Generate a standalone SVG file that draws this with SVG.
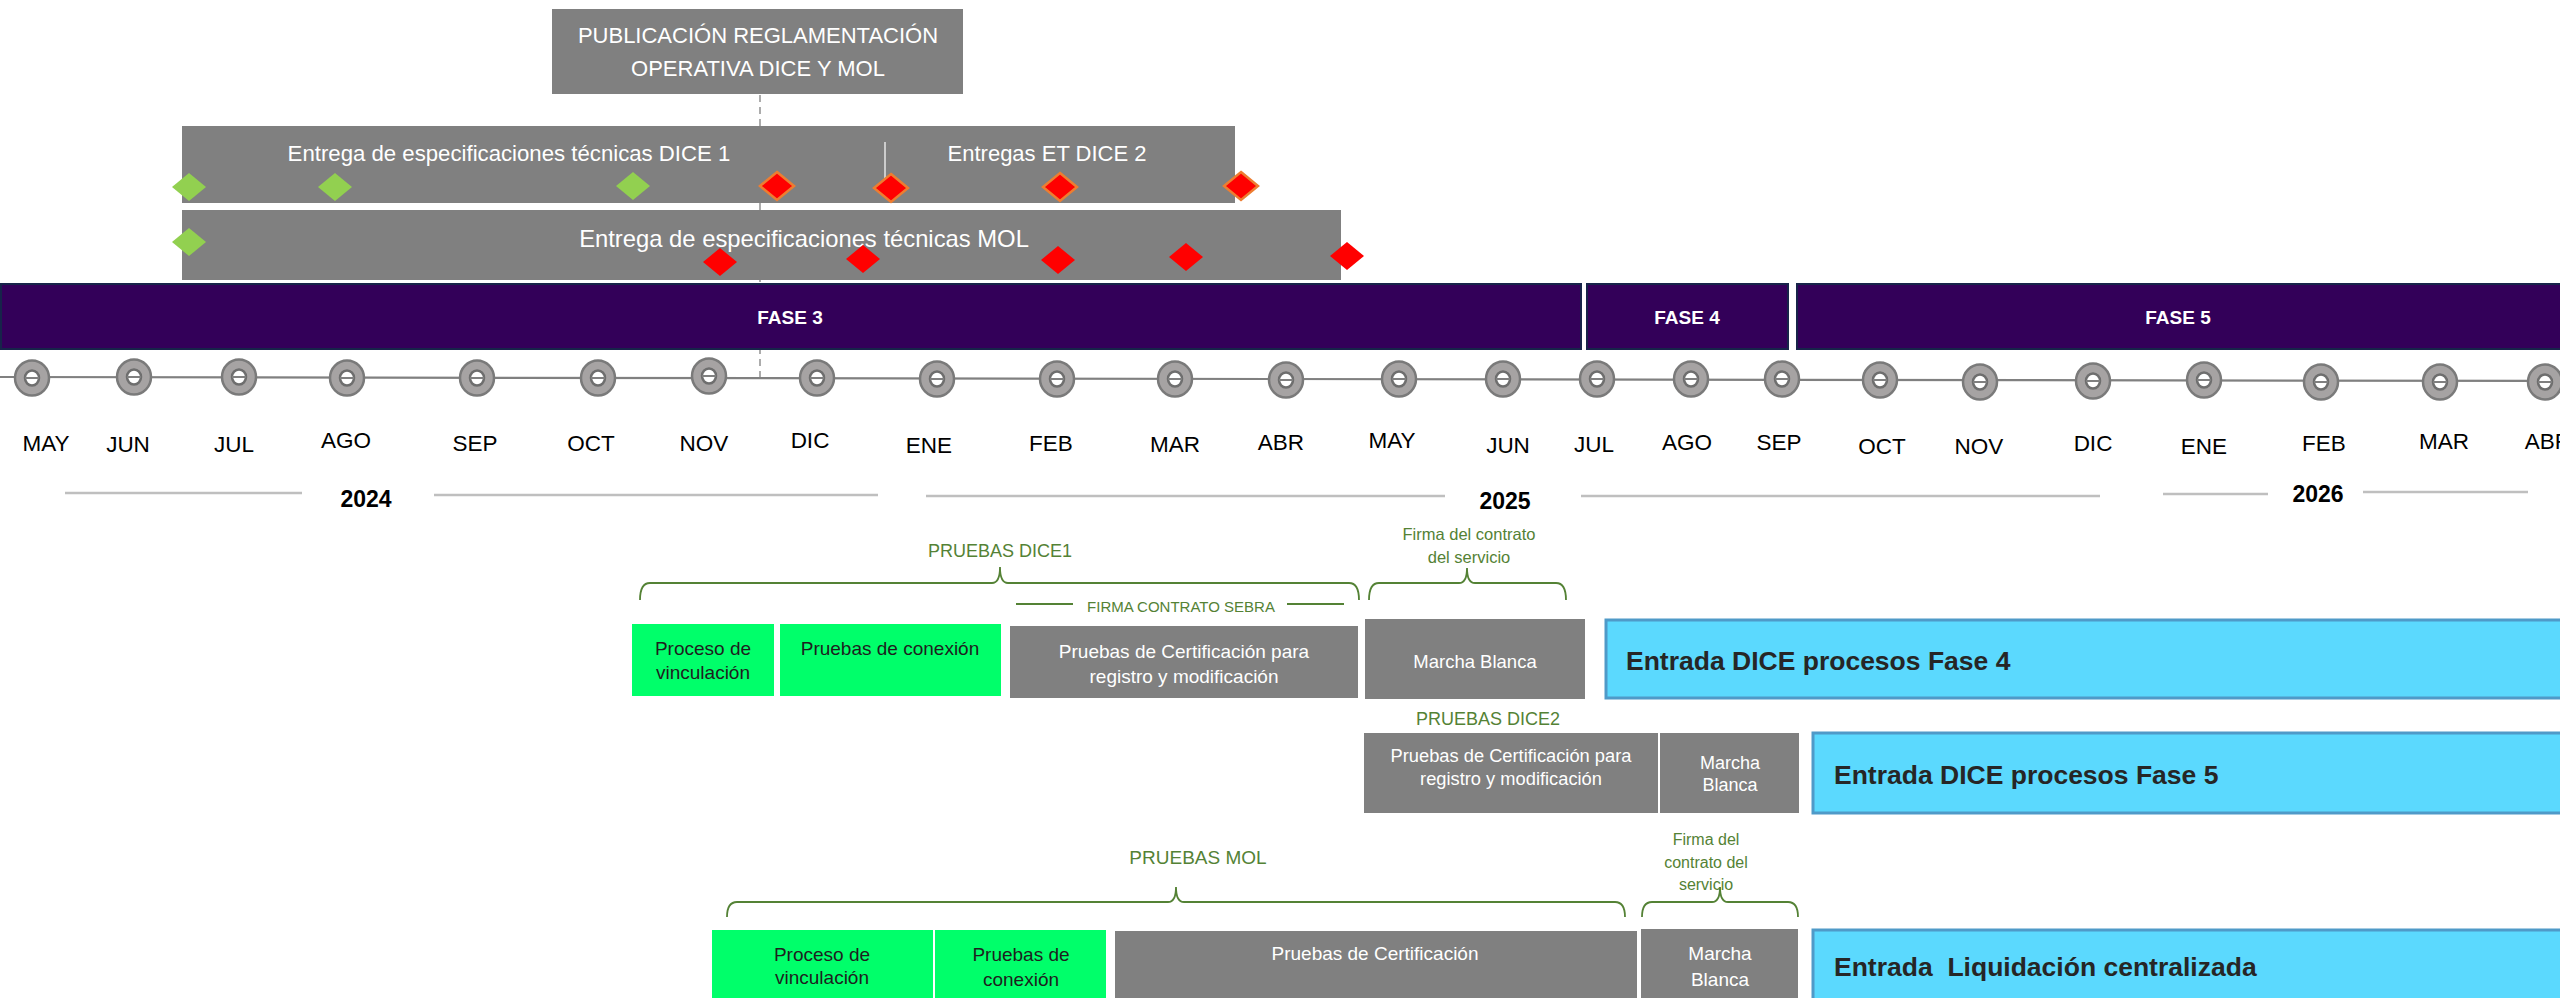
<svg xmlns="http://www.w3.org/2000/svg" width="2560" height="998" viewBox="0 0 2560 998">
<defs>
<style>
text{font-family:"Liberation Sans",Arial,sans-serif;dominant-baseline:central}
.w{fill:#fff}
.gbox{fill:#808080}
.grn{fill:#00FF6A}
.blue{fill:#5BD9FE;stroke:#4F9AC8;stroke-width:3}
.fase{fill:#330059;stroke:#17244A;stroke-width:2}
.ft{fill:#fff;font-weight:bold;font-size:19px;text-anchor:middle}
.mo{font-size:22.5px;fill:#000;text-anchor:middle}
.yr{font-size:23px;font-weight:bold;fill:#000;text-anchor:middle}
.yl{stroke:#BFBFBF;stroke-width:2.5}
.gl{fill:#548235;text-anchor:middle}
.br{fill:none;stroke:#548235;stroke-width:1.8}
.dk{fill:#1e1e1e;text-anchor:middle}
.wt{fill:#fff;text-anchor:middle}
.bt{fill:#262626;font-weight:bold;font-size:26.5px}
.dg{fill:#92D050}
.dr{fill:#FF0000;stroke:#ED7D31;stroke-width:2.5}
.dm{fill:#FF0000}
</style>
<g id="ring">
<ellipse cx="0" cy="0" rx="17" ry="17.5" fill="#A6A3A3" stroke="#7A7A7A" stroke-width="2.5"/>
<ellipse cx="0" cy="0" rx="7" ry="7.5" fill="#fff" stroke="#6E6E6E" stroke-width="2.5"/>
<line x1="-7" y1="0" x2="7" y2="0" stroke="#808080" stroke-width="2"/>
</g>
<polygon id="dia" points="0,-14 17,0 0,14 -17,0"/>
</defs>
<rect width="2560" height="998" fill="#fff"/>

<g id="connectors">
<line x1="760" y1="95" x2="760" y2="378" stroke="#808080" stroke-width="1.3" stroke-dasharray="7,5"/>
<line x1="0" y1="377" x2="2560" y2="381" stroke="#808080" stroke-width="2.2"/>
<path class="br" d="M640,600 Q640,583 650,583 L992,583 Q1000,583 1000,567 Q1000,583 1008,583 L1349,583 Q1359,583 1359,600"/>
<path class="br" d="M1369,600 Q1369,583 1379,583 L1459,583 Q1467,583 1467,568 Q1467,583 1475,583 L1556,583 Q1566,583 1566,600"/>
<path class="br" d="M727,917 Q727,902 737,902 L1168,902 Q1176,902 1176,887 Q1176,902 1184,902 L1615,902 Q1625,902 1625,917"/>
<path class="br" d="M1642,917 Q1642,902 1652,902 L1712,902 Q1720,902 1720,887 Q1720,902 1728,902 L1788,902 Q1798,902 1798,917"/>
<line x1="1016" y1="604" x2="1073" y2="604" stroke="#548235" stroke-width="1.8"/>
<line x1="1287" y1="604" x2="1344" y2="604" stroke="#548235" stroke-width="1.8"/>
</g>

<g id="publicacion">
<rect class="gbox" x="552" y="9" width="411" height="85"/>
<text class="wt" x="758" y="35" font-size="22">PUBLICACIÓN REGLAMENTACIÓN</text>
<text class="wt" x="758" y="68" font-size="22">OPERATIVA DICE Y MOL</text>
</g>

<g id="entrega-dice">
<rect class="gbox" x="182" y="126" width="1053" height="77"/>
<line x1="885" y1="142" x2="885" y2="197" stroke="#fff" stroke-width="1.2"/>
<text class="wt" x="509" y="153" font-size="22.2">Entrega de especificaciones técnicas DICE 1</text>
<text class="wt" x="1047" y="153" font-size="22">Entregas ET DICE 2</text>
<use href="#dia" class="dg" x="189" y="187"/>
<use href="#dia" class="dg" x="335" y="187"/>
<use href="#dia" class="dg" x="633" y="186"/>
<use href="#dia" class="dr" x="777" y="186"/>
<use href="#dia" class="dr" x="891" y="188"/>
<use href="#dia" class="dr" x="1060" y="187"/>
<use href="#dia" class="dr" x="1241" y="186"/>
</g>

<g id="entrega-mol">
<rect class="gbox" x="182" y="210" width="1159" height="70"/>
<text class="wt" x="804" y="238" font-size="23.8">Entrega de especificaciones técnicas MOL</text>
<use href="#dia" class="dg" x="189" y="242"/>
<use href="#dia" class="dm" x="720" y="262"/>
<use href="#dia" class="dm" x="863" y="259"/>
<use href="#dia" class="dm" x="1058" y="260"/>
<use href="#dia" class="dm" x="1186" y="257"/>
<use href="#dia" class="dm" x="1347" y="256"/>
</g>

<g id="fase3"><rect class="fase" x="1" y="284" width="1580" height="65"/><text class="ft" x="790" y="317">FASE 3</text></g>
<g id="fase4"><rect class="fase" x="1587" y="284" width="201" height="65"/><text class="ft" x="1687" y="317">FASE 4</text></g>
<g id="fase5"><rect class="fase" x="1797" y="284" width="770" height="65"/><text class="ft" x="2178" y="317">FASE 5</text></g>

<g id="timeline">
<use href="#ring" x="32" y="378"/>
<use href="#ring" x="134" y="377"/>
<use href="#ring" x="239" y="377"/>
<use href="#ring" x="347" y="378"/>
<use href="#ring" x="477" y="378"/>
<use href="#ring" x="598" y="378"/>
<use href="#ring" x="709" y="376"/>
<use href="#ring" x="817" y="378"/>
<use href="#ring" x="937" y="379"/>
<use href="#ring" x="1057" y="379"/>
<use href="#ring" x="1175" y="379"/>
<use href="#ring" x="1286" y="380"/>
<use href="#ring" x="1399" y="379"/>
<use href="#ring" x="1503" y="379"/>
<use href="#ring" x="1597" y="379"/>
<use href="#ring" x="1691" y="379"/>
<use href="#ring" x="1782" y="379"/>
<use href="#ring" x="1880" y="380"/>
<use href="#ring" x="1980" y="382"/>
<use href="#ring" x="2093" y="381"/>
<use href="#ring" x="2204" y="380"/>
<use href="#ring" x="2321" y="382"/>
<use href="#ring" x="2440" y="382"/>
<use href="#ring" x="2545" y="382"/>
</g>

<g id="months">
<text class="mo" x="46" y="443">MAY</text>
<text class="mo" x="128" y="444">JUN</text>
<text class="mo" x="234" y="444">JUL</text>
<text class="mo" x="346" y="440">AGO</text>
<text class="mo" x="475" y="443">SEP</text>
<text class="mo" x="591" y="443">OCT</text>
<text class="mo" x="704" y="443">NOV</text>
<text class="mo" x="810" y="440">DIC</text>
<text class="mo" x="929" y="445">ENE</text>
<text class="mo" x="1051" y="443">FEB</text>
<text class="mo" x="1175" y="444">MAR</text>
<text class="mo" x="1281" y="442">ABR</text>
<text class="mo" x="1392" y="440">MAY</text>
<text class="mo" x="1508" y="445">JUN</text>
<text class="mo" x="1594" y="444">JUL</text>
<text class="mo" x="1687" y="442">AGO</text>
<text class="mo" x="1779" y="442">SEP</text>
<text class="mo" x="1882" y="446">OCT</text>
<text class="mo" x="1979" y="446">NOV</text>
<text class="mo" x="2093" y="443">DIC</text>
<text class="mo" x="2204" y="446">ENE</text>
<text class="mo" x="2324" y="443">FEB</text>
<text class="mo" x="2444" y="441">MAR</text>
<text class="mo" x="2548" y="441">ABR</text>
</g>

<g id="years">
<line class="yl" x1="65" y1="493" x2="302" y2="493"/>
<line class="yl" x1="434" y1="495" x2="878" y2="495"/>
<line class="yl" x1="926" y1="496" x2="1445" y2="496"/>
<line class="yl" x1="1581" y1="496" x2="2100" y2="496"/>
<line class="yl" x1="2163" y1="494" x2="2268" y2="494"/>
<line class="yl" x1="2363" y1="492" x2="2528" y2="492"/>
<text class="yr" x="366" y="499">2024</text>
<text class="yr" x="1505" y="501">2025</text>
<text class="yr" x="2318" y="494">2026</text>
</g>

<g id="labels">
<text class="gl" x="1000" y="551" font-size="18">PRUEBAS DICE1</text>
<text class="gl" x="1469" y="534" font-size="16.5">Firma del contrato</text>
<text class="gl" x="1469" y="557" font-size="16.5">del servicio</text>
<text class="gl" x="1181" y="606" font-size="15">FIRMA CONTRATO SEBRA</text>
<text class="gl" x="1488" y="719" font-size="18">PRUEBAS DICE2</text>
<text class="gl" x="1198" y="857" font-size="19">PRUEBAS MOL</text>
<text class="gl" x="1706" y="839" font-size="16">Firma del</text>
<text class="gl" x="1706" y="862" font-size="16">contrato del</text>
<text class="gl" x="1706" y="884" font-size="16">servicio</text>
</g>

<g id="dice1-vinculacion"><rect class="grn" x="632" y="624" width="142" height="72"/><text class="dk" x="703" y="648" font-size="19">Proceso de</text><text class="dk" x="703" y="672" font-size="19">vinculación</text></g>
<g id="dice1-conexion"><rect class="grn" x="780" y="624" width="221" height="72"/><text class="dk" x="890" y="648" font-size="19">Pruebas de conexión</text></g>
<g id="dice1-certificacion"><rect class="gbox" x="1010" y="626" width="348" height="72"/><text class="wt" x="1184" y="651" font-size="19">Pruebas de Certificación para</text><text class="wt" x="1184" y="676" font-size="19">registro y modificación</text></g>
<g id="dice1-marcha"><rect class="gbox" x="1365" y="619" width="220" height="80"/><text class="wt" x="1475" y="661" font-size="18.5">Marcha Blanca</text></g>
<g id="fase4-entrada"><rect class="blue" x="1606" y="620" width="960" height="78"/><text class="bt" x="1626" y="661">Entrada DICE procesos Fase 4</text></g>

<g id="dice2-certificacion"><rect class="gbox" x="1364" y="733" width="294" height="80"/><text class="wt" x="1511" y="755" font-size="18.3">Pruebas de Certificación para</text><text class="wt" x="1511" y="778" font-size="18.3">registro y modificación</text></g>
<g id="dice2-marcha"><rect class="gbox" x="1660" y="733" width="139" height="80"/><text class="wt" x="1730" y="763" font-size="18">Marcha</text><text class="wt" x="1730" y="785" font-size="18">Blanca</text></g>
<g id="fase5-entrada"><rect class="blue" x="1813" y="733" width="760" height="80"/><text class="bt" x="1834" y="775">Entrada DICE procesos Fase 5</text></g>

<g id="mol-vinculacion"><rect class="grn" x="712" y="930" width="221" height="70"/><text class="dk" x="822" y="954" font-size="19">Proceso de</text><text class="dk" x="822" y="977" font-size="19">vinculación</text></g>
<g id="mol-conexion"><rect class="grn" x="935" y="930" width="171" height="70"/><text class="dk" x="1021" y="954" font-size="19">Pruebas de</text><text class="dk" x="1021" y="979" font-size="19">conexión</text></g>
<g id="mol-certificacion"><rect class="gbox" x="1115" y="931" width="522" height="70"/><text class="wt" x="1375" y="953" font-size="19">Pruebas de Certificación</text></g>
<g id="mol-marcha"><rect class="gbox" x="1641" y="929" width="157" height="72"/><text class="wt" x="1720" y="953" font-size="19">Marcha</text><text class="wt" x="1720" y="979" font-size="19">Blanca</text></g>
<g id="liquidacion-entrada"><rect class="blue" x="1813" y="930" width="760" height="75"/><text class="bt" x="1834" y="967" font-size="24.5" style="white-space:pre">Entrada  Liquidación centralizada</text></g>
</svg>
